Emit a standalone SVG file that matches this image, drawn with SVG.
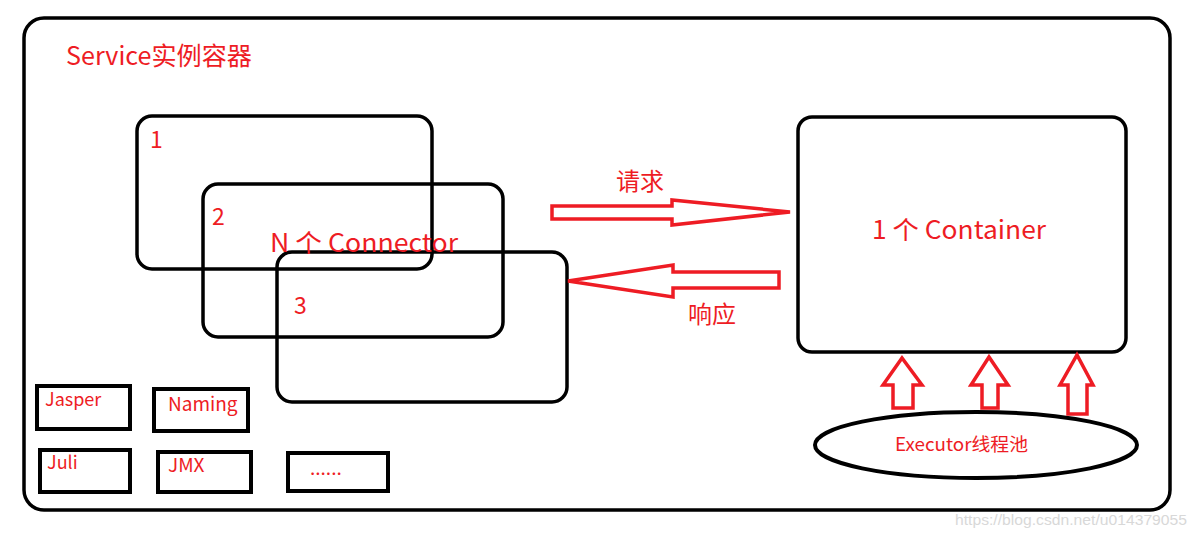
<svg xmlns="http://www.w3.org/2000/svg" width="1198" height="536" viewBox="0 0 1198 536">
<style>
.t{font-family:"Noto Sans CJK SC","Noto Sans",sans-serif;fill:#ee1c24}
.box{fill:none;stroke:#000;stroke-width:3.5}
.sb{fill:none;stroke:#000;stroke-width:4}
.ar{fill:#fff;stroke:#ee1c24;stroke-width:3.5;stroke-linejoin:miter}
</style>
<rect width="1198" height="536" fill="#fff"/>
<g id="service">
<rect x="24" y="18" width="1146" height="492" rx="20" class="box" stroke-width="4"/>
<text x="66" y="65" class="t" font-size="25" textLength="186" lengthAdjust="spacingAndGlyphs">Service实例容器</text>
</g>
<g id="connector1">
<rect x="137" y="116" width="295" height="153" rx="15" class="box"/>
<text x="150" y="148" class="t" font-size="23">1</text>
</g>
<g id="connector2">
<rect x="203" y="184" width="300" height="153" rx="15" class="box"/>
<text x="212" y="225" class="t" font-size="23">2</text>
</g>
<g id="connector3">
<rect x="277" y="252" width="290" height="150" rx="15" class="box"/>
<text x="294" y="314" class="t" font-size="23">3</text>
</g>
<g id="connector-label">
<text x="270" y="252" class="t" font-size="25" textLength="188" lengthAdjust="spacingAndGlyphs">N 个 Connector</text>
</g>
<g id="container">
<rect x="798" y="117" width="328" height="235" rx="14" class="box"/>
<text x="872" y="239" class="t" font-size="25" textLength="174" lengthAdjust="spacingAndGlyphs">1 个 Container</text>
</g>
<g id="executor">
<ellipse cx="976" cy="445" rx="161" ry="33" class="sb"/>
<text x="895" y="451" class="t" font-size="18" textLength="133" lengthAdjust="spacingAndGlyphs">Executor线程池</text>
</g>
<g id="jasper">
<rect x="37" y="386" width="93" height="43" class="sb"/>
<text x="45" y="406" class="t" font-size="18">Jasper</text>
</g>
<g id="naming">
<rect x="154" y="389" width="94" height="42" class="sb"/>
<text x="168" y="411" class="t" font-size="19">Naming</text>
</g>
<g id="juli">
<rect x="40" y="450" width="90" height="42" class="sb"/>
<text x="47" y="469" class="t" font-size="18">Juli</text>
</g>
<g id="jmx">
<rect x="158" y="452" width="93" height="40" class="sb"/>
<text x="168" y="472" class="t" font-size="19">JMX</text>
</g>
<g id="more">
<rect x="288" y="453" width="100" height="38" class="sb"/>
<text x="310" y="475" class="t" font-size="19">......</text>
</g>
<g id="connectors">
<polygon class="ar" points="552,206 672,206 672,200 790,212 672,225 672,219 552,219"/>
<text x="616" y="190" class="t" font-size="24">请求</text>
<polygon class="ar" points="779,272 673,272 673,265 568,281 673,297 673,288 779,288"/>
<text x="688" y="323" class="t" font-size="24">响应</text>
<polygon class="ar" points="893,408 893,385 883,385 902,358 922,385 913,385 913,408"/>
<polygon class="ar" points="982,408 982,385 971,385 989,357 1008,385 998,385 998,408"/>
<polygon class="ar" points="1068,414 1068,385 1060,385 1077,355 1093,385 1087,385 1087,414"/>
</g>
<text x="955" y="525" font-family="Liberation Sans,sans-serif" font-size="15" fill="#d8d8d8" textLength="232" lengthAdjust="spacingAndGlyphs">https://blog.csdn.net/u014379055</text>
</svg>
